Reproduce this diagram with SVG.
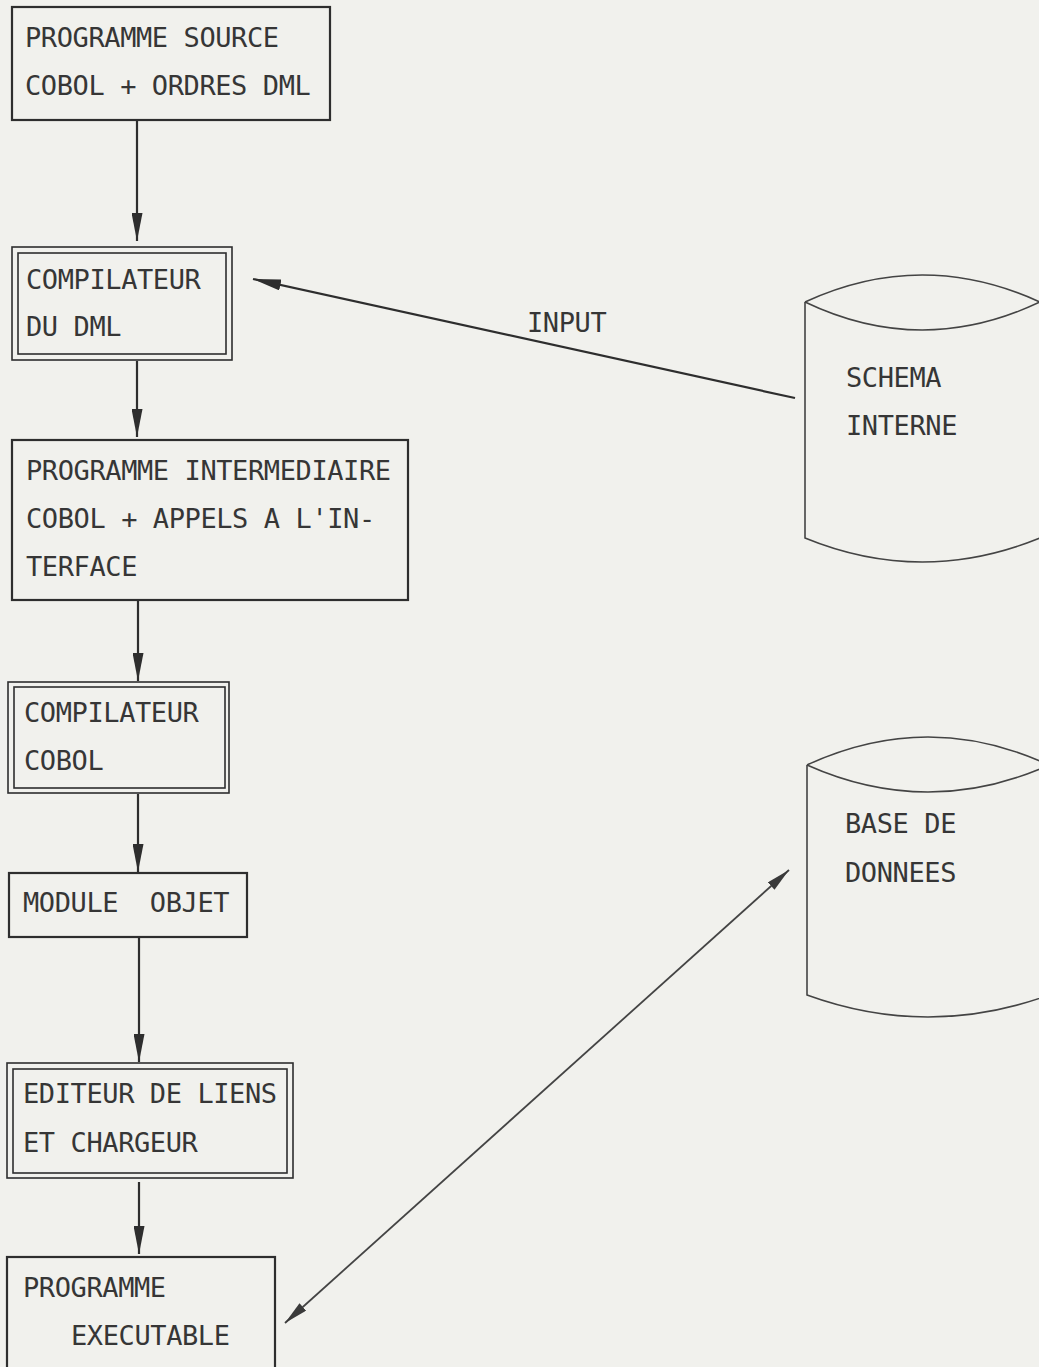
<svg xmlns="http://www.w3.org/2000/svg" width="1039" height="1367" viewBox="0 0 1039 1367">
  <style>
    .bg { fill: #f1f1ed; }
    .box { fill: none; stroke: #2e2e2e; stroke-width: 2.2; }
    .box2 { fill: none; stroke: #2e2e2e; stroke-width: 1.6; }
    .cyl { fill: none; stroke: #444; stroke-width: 1.6; }
    .lbl { font-family: "DejaVu Sans Mono", "Liberation Mono", monospace; font-size: 27px; letter-spacing: -0.4px; fill: #363636; }
    .conn { fill: none; stroke: #2e2e2e; stroke-width: 2.2; }
    .thin { fill: none; stroke: #444; stroke-width: 1.8; }
  </style>
  <defs>
    <marker id="ah" viewBox="0 0 28 11" refX="28" refY="5.5" markerWidth="28" markerHeight="11" markerUnits="userSpaceOnUse" orient="auto-start-reverse">
      <path d="M0,0 L28,5.5 L0,11 z" fill="#2e2e2e"/>
    </marker>
    <marker id="ahs" viewBox="0 0 24 10" refX="24" refY="5" markerWidth="24" markerHeight="10" markerUnits="userSpaceOnUse" orient="auto-start-reverse">
      <path d="M0,0 L24,5 L0,10 z" fill="#3a3a3a"/>
    </marker>
  </defs>
  <rect class="bg" x="0" y="0" width="1039" height="1367"/>

  <g id="connectors">
    <line class="conn" x1="137" y1="121" x2="137" y2="241" marker-end="url(#ah)"/>
    <line class="conn" x1="137" y1="361" x2="137" y2="437" marker-end="url(#ah)"/>
    <line class="conn" x1="138" y1="601" x2="138" y2="681" marker-end="url(#ah)"/>
    <line class="conn" x1="138" y1="794" x2="138" y2="872" marker-end="url(#ah)"/>
    <line class="conn" x1="139" y1="938" x2="139" y2="1062" marker-end="url(#ah)"/>
    <line class="conn" x1="139" y1="1182" x2="139" y2="1254" marker-end="url(#ah)"/>
    <line class="conn" x1="795" y1="398" x2="253" y2="279" marker-end="url(#ah)"/>
    <line class="thin" x1="285" y1="1323" x2="789" y2="870" marker-start="url(#ahs)" marker-end="url(#ahs)"/>
    <text class="lbl" x="527" y="332">INPUT</text>
  </g>

  <g id="programme-source">
    <rect class="box" x="12" y="7" width="318" height="113"/>
    <text class="lbl" x="25" y="47">PROGRAMME SOURCE</text>
    <text class="lbl" x="25" y="95">COBOL + ORDRES DML</text>
  </g>

  <g id="compilateur-dml">
    <rect class="box2" x="12" y="247" width="220" height="113"/>
    <rect class="box2" x="18" y="253" width="208" height="101"/>
    <text class="lbl" x="26" y="289">COMPILATEUR</text>
    <text class="lbl" x="26" y="336">DU DML</text>
  </g>

  <g id="programme-intermediaire">
    <rect class="box" x="12" y="440" width="396" height="160"/>
    <text class="lbl" x="26" y="480">PROGRAMME INTERMEDIAIRE</text>
    <text class="lbl" x="26" y="528">COBOL + APPELS A L'IN-</text>
    <text class="lbl" x="26" y="576">TERFACE</text>
  </g>

  <g id="compilateur-cobol">
    <rect class="box2" x="8" y="682" width="221" height="111"/>
    <rect class="box2" x="14" y="687" width="211" height="101"/>
    <text class="lbl" x="24" y="722">COMPILATEUR</text>
    <text class="lbl" x="24" y="770">COBOL</text>
  </g>

  <g id="module-objet">
    <rect class="box" x="9" y="873" width="238" height="64"/>
    <text class="lbl" x="23" y="912" xml:space="preserve">MODULE  OBJET</text>
  </g>

  <g id="editeur-liens">
    <rect class="box2" x="7" y="1063" width="286" height="115"/>
    <rect class="box2" x="13" y="1069" width="274" height="104"/>
    <text class="lbl" x="23" y="1103">EDITEUR DE LIENS</text>
    <text class="lbl" x="23" y="1152">ET CHARGEUR</text>
  </g>

  <g id="programme-executable">
    <rect class="box" x="7" y="1257" width="268" height="130"/>
    <text class="lbl" x="23" y="1297">PROGRAMME</text>
    <text class="lbl" x="71" y="1345">EXECUTABLE</text>
  </g>

  <g id="schema-interne">
    <path class="cyl" d="M805,302 Q922,248 1040,302"/>
    <path class="cyl" d="M805,302 Q922,358 1040,302"/>
    <path class="cyl" d="M805,302 L805,538 Q922,586 1040,538 L1040,302"/>
    <text class="lbl" x="846" y="387">SCHEMA</text>
    <text class="lbl" x="846" y="435">INTERNE</text>
  </g>

  <g id="base-de-donnees">
    <path class="cyl" d="M807,765 Q928,709 1049,765"/>
    <path class="cyl" d="M807,765 Q928,819 1049,765"/>
    <path class="cyl" d="M807,765 L807,995 Q928,1039 1049,995 L1049,765"/>
    <text class="lbl" x="845" y="833">BASE DE</text>
    <text class="lbl" x="845" y="882">DONNEES</text>
  </g>
</svg>
